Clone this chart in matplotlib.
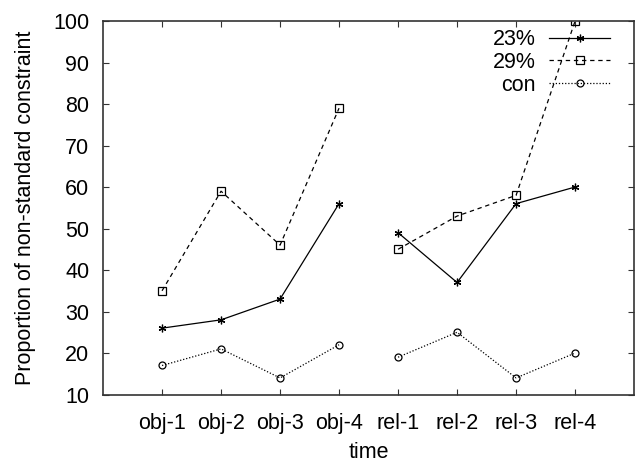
import matplotlib
matplotlib.use("Agg")
import matplotlib.pyplot as plt

plt.rcParams['font.family'] = ['Liberation Sans', 'DejaVu Sans']

labels = ['obj-1', 'obj-2', 'obj-3', 'obj-4', 'rel-1', 'rel-2', 'rel-3', 'rel-4']
obj_x = [1, 2, 3, 4]
rel_x = [5, 6, 7, 8]

s23_obj = [26, 28, 33, 56]
s23_rel = [49, 37, 56, 60]
s29_obj = [35, 59, 46, 79]
s29_rel = [45, 53, 58, 100]
con_obj = [17, 21, 14, 22]
con_rel = [19, 25, 14, 20]

fig = plt.figure(figsize=(6.36, 4.62), dpi=100)
ax = fig.add_axes([0.162, 0.146, 0.835, 0.8085])

fs = 15.5
lw = 0.9

# two separate segments per series (break between obj and rel)
for xs, ys, lab in [(obj_x, s23_obj, '23%'), (rel_x, s23_rel, None)]:
    ax.plot(xs, ys, color='black', lw=lw, ls='-', marker=(6, 2, 0), ms=5.5, mew=0.9, label=lab)
for xs, ys, lab in [(obj_x, s29_obj, '29%'), (rel_x, s29_rel, None)]:
    ax.plot(xs, ys, color='black', lw=lw, ls=(0, (3.5, 3)), marker='s', ms=6, mfc='none', mew=0.9, label=lab)
for xs, ys, lab in [(obj_x, con_obj, 'con'), (rel_x, con_rel, None)]:
    ax.plot(xs, ys, color='black', lw=lw, ls=(0, (1, 1.5)), marker='o', ms=5, mfc='none', mew=0.9, label=lab)

ax.set_xlim(0, 9)
ax.set_ylim(10, 100)
ax.set_xticks(range(1, 9))
ax.set_xticklabels(labels)
ax.set_yticks(range(10, 101, 10))

ax.tick_params(direction='in', length=4.5, width=0.8, top=True, right=True,
               labelsize=fs, pad=10, colors='#333333', labelcolor='black')
ax.tick_params(axis='x', pad=13)
for sp in ax.spines.values():
    sp.set_linewidth(1.2)
    sp.set_color('#333333')

ax.set_xlabel('time', fontsize=fs, labelpad=6)
ax.set_ylabel('Proportion of non-standard constraint', fontsize=fs, labelpad=12)

ax.legend(loc='upper right', bbox_to_anchor=(0.954, 0.978), frameon=False,
          markerfirst=False, fontsize=fs, handlelength=2.8, handletextpad=0.65,
          labelspacing=0.08, borderpad=0, borderaxespad=0)

fig.savefig('out.png', dpi=100)
